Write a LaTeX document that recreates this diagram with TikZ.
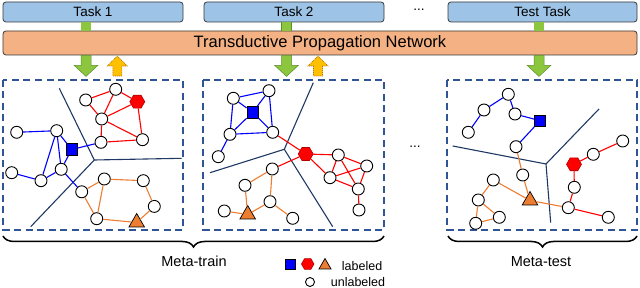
\documentclass[tikz,border=0pt]{standalone}
\usepackage{fontspec}
\setmainfont{Liberation Sans}
\usetikzlibrary{positioning,shapes.geometric,decorations.pathreplacing}
\definecolor{taskFill}{HTML}{9DC3E6}
\definecolor{taskLine}{HTML}{3A3A3A}
\definecolor{netFill}{HTML}{F4B183}
\definecolor{goFill}{HTML}{8CC63F}
\definecolor{goLine}{HTML}{5A8F2A}
\definecolor{backFill}{HTML}{FFC000}
\definecolor{backLine}{HTML}{B86E00}
\definecolor{boxLine}{HTML}{2F5597}
\definecolor{cutLine}{HTML}{1F3864}
\definecolor{clsBlue}{HTML}{0000FF}
\definecolor{clsRed}{HTML}{FF0000}
\definecolor{clsOrange}{HTML}{ED7D31}

\begin{document}
\begin{tikzpicture}[
    x=1pt, y=-1pt,
    font=\fontsize{13.5}{15}\selectfont,
    task/.style={rectangle, rounded corners=3pt, draw=taskLine, fill=taskFill, line width=0.8pt,
                 minimum height=20pt, inner sep=0pt},
    net/.style={rectangle, rounded corners=3pt, draw=taskLine, fill=netFill, line width=0.8pt,
                minimum width=634pt, minimum height=24pt, inner sep=0pt, font=\fontsize{16.5}{19}\selectfont},
    taskLink/.style={draw=goLine, line width=0.5pt, double=goFill, double distance=9.5pt},
    goArrow/.style={draw=goLine, fill=goFill, line width=0.5pt, line join=miter},
    backArrow/.style={draw=backLine, fill=backFill, line width=0.6pt, dash pattern=on 1.2pt off 0.8pt},
    episode/.style={draw=boxLine, line width=1.5pt, dash pattern=on 7pt off 4.5pt},
    cut/.style={draw=cutLine, line width=1.1pt},
    unl/.style={circle, draw=black, fill=white, line width=0.9pt, minimum size=12pt, inner sep=0pt},
    labB/.style={rectangle, draw=black, fill=clsBlue, line width=0.7pt, minimum size=11.5pt, inner sep=0pt},
    labR/.style={regular polygon, regular polygon sides=6, draw=clsRed!70!black, fill=clsRed, line width=0.6pt,
                 minimum size=15pt, inner sep=0pt},
    labO/.style={regular polygon, regular polygon sides=3, draw=black, fill=clsOrange, line width=0.7pt,
                 minimum size=18pt, inner sep=0pt},
    eB/.style={draw=clsBlue, line width=1.1pt},
    eR/.style={draw=clsRed, line width=1.1pt},
    eO/.style={draw=clsOrange, line width=1.1pt},
    phase/.style={decorate, decoration={brace, mirror, amplitude=11pt}, line width=1.5pt},
    legend/.style={font=\fontsize{12.5}{14}\selectfont, anchor=west, inner sep=0pt},
  ]
  \useasboundingbox (0,0) rectangle (640,288);

  % Arrow columns (x-positions)
  \def\gA{86}\def\gB{286.5}\def\gC{539}
  \coordinate (gA) at (\gA,0); \coordinate (gB) at (\gB,0); \coordinate (gC) at (\gC,0);

  % TASKS
  \node[task, minimum width=180pt] (t1) at (93,12) {Task 1};
  \node[task, minimum width=180pt] (t2) at (294,12) {Task 2};
  \node (tdots) at (419,10) {...};
  \node[task, minimum width=189pt] (t3) at (542.5,12) {Test Task};

  % NETWORK
  \node[net] (tpn) at (320,43) {Transductive Propagation Network};
  \draw[taskLink] (t1.south -| gA) -- (tpn.north -| gA);
  \draw[taskLink] (t2.south -| gB) -- (tpn.north -| gB);
  \draw[taskLink] (t3.south -| gC) -- (tpn.north -| gC);

  % block arrows below the network (down: to episode, up: back to network)
  \coordinate (dA) at (tpn.south -| gA);
  \coordinate (dB) at (tpn.south -| gB);
  \coordinate (dC) at (tpn.south -| gC);
  \coordinate (uA) at (117.3,76);
  \coordinate (uB) at (318,76);
  \draw[goArrow] (dA) ++(-5,0) -- ++(10,0) -- ++(0,10) -- ++(6.8,0) -- ++(-11.8,11) -- ++(-11.8,-11) -- ++(6.8,0) -- cycle;
  \draw[goArrow] (dB) ++(-5,0) -- ++(10,0) -- ++(0,10) -- ++(6.8,0) -- ++(-11.8,11) -- ++(-11.8,-11) -- ++(6.8,0) -- cycle;
  \draw[goArrow] (dC) ++(-5,0) -- ++(10,0) -- ++(0,10) -- ++(6.8,0) -- ++(-11.8,11) -- ++(-11.8,-11) -- ++(6.8,0) -- cycle;
  \draw[backArrow] (uA) ++(-4.5,0) -- ++(9,0) -- ++(0,-10) -- ++(5.5,0) -- ++(-10,-10) -- ++(-10,10) -- ++(5.5,0) -- cycle;
  \draw[backArrow] (uB) ++(-4.5,0) -- ++(9,0) -- ++(0,-10) -- ++(5.5,0) -- ++(-10,-10) -- ++(-10,10) -- ++(5.5,0) -- cycle;

  % EPISODES
  \draw[episode] (3,80) rectangle (183,230);
  \draw[episode] (203,80) rectangle (384,230);
  \node (edots) at (415,147) {...};
  \draw[episode] (447,80) rectangle (637,230);

  % class borders
  \draw[cut] (59.3,88.3) -- (94.3,160) -- (181.7,158.3) (94.3,160) -- (30.7,226.7);
  \draw[cut] (313.3,82.7) -- (284.3,149.3) -- (210,172.7) (284.3,149.3) -- (332.7,226.7);
  \draw[cut] (452.7,146) -- (546,164) -- (599,109) (546,164) -- (550.7,222.7);

  % episode 1
  \node[unl] (a1) at (16.7,132.3) {};
  \node[unl] (a2) at (56.7,130.7) {};
  \node[labB] (aS) at (71.7,149.5) {};
  \node[unl] (a3) at (61.2,169.3) {};
  \node[unl] (a4) at (11.7,172.7) {};
  \node[unl] (a5) at (41,180.7) {};
  \node[unl] (a6) at (81.7,191.8) {};
  \node[unl] (ar1) at (85.7,100) {};
  \node[unl] (ar2) at (115.7,89.3) {};
  \node[labR] (aH) at (137.3,101.7) {};
  \node[unl] (ar3) at (101.7,119) {};
  \node[unl] (ar4) at (101,142.3) {};
  \node[unl] (ar5) at (142.5,139.7) {};
  \node[unl] (ao1) at (104.3,179) {};
  \node[unl] (ao2) at (143.3,180.7) {};
  \node[unl] (ao3) at (154.3,206.4) {};
  \node[labO] (aT) at (136.7,222.5) {};
  \node[unl] (ao4) at (96.7,218.7) {};
  \draw[eB] (a1) -- (a2) (a2) -- (aS) (a2) -- (a3) (a2) -- (a5) (aS) -- (a3) (a3) -- (a5)
            (a4) -- (a5) (a3) -- (a6) (aS) -- (ar4);
  \draw[eR] (ar1) -- (ar2) (ar1) -- (ar3) (ar2) -- (aH) (ar2) -- (ar3) (aH) -- (ar3)
            (aH) -- (ar5) (ar3) -- (ar4) (ar3) -- (ar5) (ar4) -- (ar5);
  \draw[eO] (a6) -- (ao1) (a6) -- (ao4) (ao1) -- (ao4) (ao1) -- (ao2) (ao2) -- (ao3)
            (ao3) -- (aT) (aT) -- (ao4);

  % episode 2
  \node[unl] (b1) at (233.3,98.3) {};
  \node[unl] (b2) at (269,90.7) {};
  \node[labB] (bS) at (252.7,112.3) {};
  \node[unl] (b3) at (230,134.3) {};
  \node[unl] (b4) at (272.7,132.3) {};
  \node[unl] (b5) at (218.3,156.7) {};
  \node[labR] (bH) at (305.7,154) {};
  \node[unl] (br1) at (338.3,155) {};
  \node[unl] (br2) at (330,177.7) {};
  \node[unl] (br3) at (366.7,166) {};
  \node[unl] (br4) at (358.3,189) {};
  \node[unl] (br5) at (359,210) {};
  \node[unl] (bo1) at (272.3,169) {};
  \node[unl] (bo2) at (245,185.3) {};
  \node[unl] (bo3) at (270,201.7) {};
  \node[labO] (bT) at (247.7,214.5) {};
  \node[unl] (bo4) at (224.3,211) {};
  \node[unl] (bo5) at (292.7,218.3) {};
  \draw[eB] (b1) -- (b2) (b1) -- (bS) (b2) -- (bS) (b2) -- (b4) (b1) -- (b3) (bS) -- (b3)
            (bS) -- (b4) (b3) -- (b4) (b3) -- (b5);
  \draw[eR] (b4) -- (bH) (bH) -- (br1) (bH) -- (br2) (bH) -- (bo1) (br1) -- (br2) (br1) -- (br3)
            (br1) -- (br4) (br2) -- (br3) (br2) -- (br4) (br3) -- (br4) (br4) -- (br5);
  \draw[eO] (bo1) -- (bo2) (bo1) -- (bo3) (bo2) -- (bT) (bo3) -- (bT) (bT) -- (bo4) (bo3) -- (bo5);

  % episode 3 (test)
  \node[unl] (c1) at (508.3,94.3) {};
  \node[unl] (c2) at (484,110) {};
  \node[unl] (c3) at (468.3,132.3) {};
  \node[unl] (c4) at (515,114) {};
  \node[labB] (cS) at (540,120.7) {};
  \node[unl] (c5) at (516,146.7) {};
  \node[unl] (co1) at (522.7,175) {};
  \node[unl] (co2) at (493.3,180) {};
  \node[labO] (cT) at (530,200.5) {};
  \node[unl] (co3) at (478.3,200) {};
  \node[unl] (co4) at (475.7,223.3) {};
  \node[unl] (co5) at (499.3,217.3) {};
  \node[labR] (cH) at (574,164.3) {};
  \node[unl] (cr1) at (593.3,154.3) {};
  \node[unl] (cr2) at (622.7,141) {};
  \node[unl] (cr3) at (574.3,187.3) {};
  \node[unl] (cr4) at (568.3,207.7) {};
  \node[unl] (cr5) at (608.3,217.3) {};
  \draw[eB] (c3) -- (c2) (c2) -- (c1) (c1) -- (c4) (c4) -- (cS) (cS) -- (c5);
  \draw[eO] (c5) -- (co1) (co1) -- (cT) (co2) -- (cT) (co2) -- (co3) (co3) -- (co4)
            (co3) -- (co5) (co4) -- (co5) (cT) -- (cr4);
  \draw[eR] (cH) -- (cr1) (cr1) -- (cr2) (cH) -- (cr3) (cr3) -- (cr4) (cr4) -- (cr5);

  % PHASES
  \coordinate (trL) at (3,236); \coordinate (trR) at (384,236);
  \coordinate (teL) at (448,236); \coordinate (teR) at (637,236);
  \draw[phase] (trL) -- (trR);
  \draw[phase] (teL) -- (teR);
  \node[font=\fontsize{14.5}{16}\selectfont] (mtrain) at (194,261.5) {Meta-train};
  \node[font=\fontsize{14.5}{16}\selectfont] (mtest) at (541,262) {Meta-test};

  % LEGEND
  \node[labB, minimum size=10pt] (legB) at (290.3,264) {};
  \node[labR, minimum size=12.5pt] (legR) at (307.7,264) {};
  \node[labO, minimum size=14pt] (legO) at (325,265.5) {};
  \node[legend] (legLab) at (341.7,266) {labeled};
  \node[unl, minimum size=9pt] (legU) at (310,282) {};
  \node[legend] (legUnl) at (330.7,282) {unlabeled};

\end{tikzpicture}
\end{document}
